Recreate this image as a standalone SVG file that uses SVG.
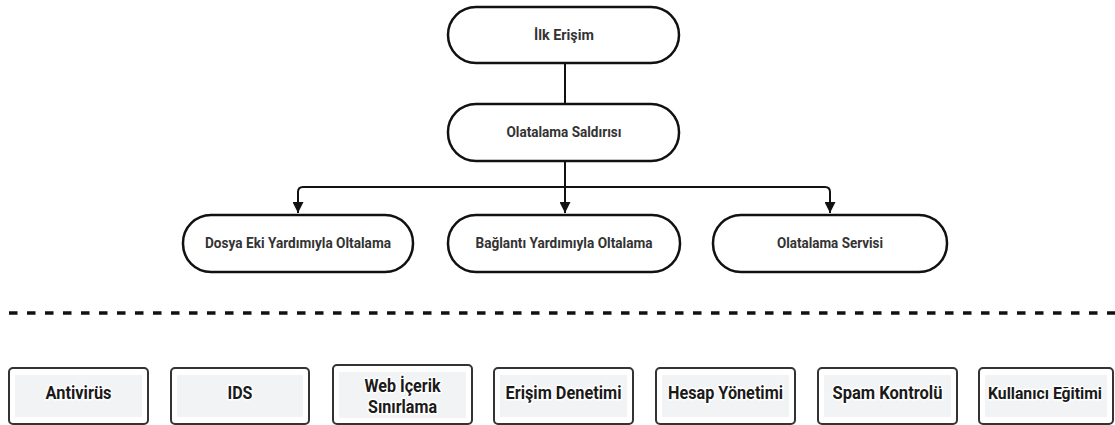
<svg xmlns="http://www.w3.org/2000/svg" width="1115" height="425" viewBox="0 0 1115 425">
<defs>
<marker id="arr" viewBox="0 0 10 10" refX="10" refY="5" markerUnits="userSpaceOnUse" markerWidth="13" markerHeight="11" orient="auto">
<path d="M0 0 L10 5 L0 10 z" fill="#111"/>
</marker>
<style>
.pill{fill:#fff;stroke:#111;stroke-width:2.5}
.pt{font-family:Roboto,"Liberation Sans",sans-serif;font-weight:700;font-size:14px;fill:#333;text-anchor:middle}
.box{fill:#fff;stroke:#333;stroke-width:2}
.inner{fill:#f2f3f5}
.bt{font-family:Roboto,"Liberation Sans",sans-serif;font-weight:700;font-size:18px;fill:#1a1a1a;text-anchor:middle;stroke:#fff;stroke-width:3;paint-order:stroke;stroke-linejoin:round}
.conn{fill:none;stroke:#111;stroke-width:2}
</style>
</defs>
<rect width="1115" height="425" fill="#fff"/>
<g id="connectors">
<path class="conn" d="M565 63 V104"/>
<path class="conn" d="M565 161 V213" marker-end="url(#arr)"/>
<path class="conn" d="M565 187 H303 Q298 187 298 192 V213" marker-end="url(#arr)"/>
<path class="conn" d="M565 187 H825 Q830 187 830 192 V213" marker-end="url(#arr)"/>
</g>
<g id="ilk-erisim">
<rect class="pill" x="448" y="7" width="231" height="56" rx="28"/>
<text class="pt" x="564" y="40" textLength="60" lengthAdjust="spacingAndGlyphs">İlk Erişim</text>
</g>
<g id="olatalama-saldirisi">
<rect class="pill" x="448" y="104" width="231" height="57" rx="28"/>
<text class="pt" x="564" y="137" textLength="115" lengthAdjust="spacingAndGlyphs">Olatalama Saldırısı</text>
</g>
<g id="dosya-eki">
<rect class="pill" x="183" y="215" width="230" height="57" rx="28"/>
<text class="pt" x="298" y="248" textLength="186" lengthAdjust="spacingAndGlyphs">Dosya Eki Yardımıyla Oltalama</text>
</g>
<g id="baglanti">
<rect class="pill" x="448" y="215" width="232" height="57" rx="28"/>
<text class="pt" x="564" y="248" textLength="177" lengthAdjust="spacingAndGlyphs">Bağlantı Yardımıyla Oltalama</text>
</g>
<g id="olatalama-servisi">
<rect class="pill" x="713" y="215" width="234" height="57" rx="28"/>
<text class="pt" x="830" y="248" textLength="106" lengthAdjust="spacingAndGlyphs">Olatalama Servisi</text>
</g>
<line x1="9" y1="313" x2="1115" y2="313" stroke="#111" stroke-width="3.5" stroke-dasharray="8.5 9.5"/>
<g id="antivirus">
<rect class="box" x="9" y="368" width="139" height="56" rx="4"/>
<rect class="inner" x="15" y="375" width="127" height="42"/>
<text class="bt" x="78.5" y="399" textLength="66" lengthAdjust="spacingAndGlyphs">Antivirüs</text>
</g>
<g id="ids">
<rect class="box" x="171" y="368" width="138" height="56" rx="4"/>
<rect class="inner" x="177" y="375" width="126" height="42"/>
<text class="bt" x="240" y="399" textLength="25" lengthAdjust="spacingAndGlyphs">IDS</text>
</g>
<g id="web-icerik">
<rect class="box" x="333" y="365" width="139" height="59" rx="4"/>
<rect class="inner" x="339" y="372" width="127" height="46"/>
<text class="bt" x="402.5" y="392" textLength="76" lengthAdjust="spacingAndGlyphs">Web İçerik</text>
<text class="bt" x="402.5" y="413" textLength="69" lengthAdjust="spacingAndGlyphs">Sınırlama</text>
</g>
<g id="erisim-denetimi">
<rect class="box" x="494" y="368" width="139" height="56" rx="4"/>
<rect class="inner" x="500" y="375" width="127" height="42"/>
<text class="bt" x="563.5" y="399" textLength="116" lengthAdjust="spacingAndGlyphs">Erişim Denetimi</text>
</g>
<g id="hesap-yonetimi">
<rect class="box" x="656" y="368" width="139" height="56" rx="4"/>
<rect class="inner" x="662" y="375" width="127" height="42"/>
<text class="bt" x="725.5" y="399" textLength="115" lengthAdjust="spacingAndGlyphs">Hesap Yönetimi</text>
</g>
<g id="spam-kontrolu">
<rect class="box" x="818" y="368" width="139" height="56" rx="4"/>
<rect class="inner" x="824" y="375" width="127" height="42"/>
<text class="bt" x="887.5" y="399" textLength="110" lengthAdjust="spacingAndGlyphs">Spam Kontrolü</text>
</g>
<g id="kullanici-egitimi">
<rect class="box" x="979" y="368" width="134" height="56" rx="4"/>
<rect class="inner" x="985" y="375" width="122" height="42"/>
<text class="bt" x="1045" y="399" style="font-size:17px" textLength="114" lengthAdjust="spacingAndGlyphs">Kullanıcı Eğitimi</text>
</g>
</svg>
